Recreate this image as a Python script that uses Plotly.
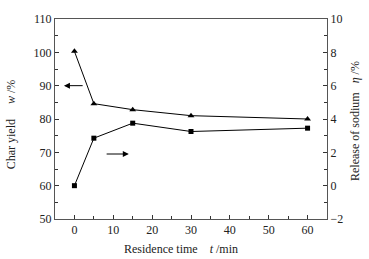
import plotly.graph_objects as go

time_min = [0, 5, 15, 30, 60]
char_yield = [100.3, 84.6, 82.8, 81.0, 80.0]
sodium_release = [0.0, 2.85, 3.75, 3.25, 3.45]

x_ticks = [0, 10, 20, 30, 40, 50, 60]
left_ticks = [50, 60, 70, 80, 90, 100, 110]
right_ticks = [-2, 0, 2, 4, 6, 8, 10]

FONT = "Liberation Serif"
TXT = "#222"
fig = go.Figure()
fig.add_trace(go.Scatter(x=time_min, y=char_yield, mode="lines+markers",
                         line=dict(color="black", width=1),
                         marker=dict(symbol="triangle-up", size=6, color="black"),
                         yaxis="y", showlegend=False))
fig.add_trace(go.Scatter(x=time_min, y=sodium_release, mode="lines+markers",
                         line=dict(color="black", width=1),
                         marker=dict(symbol="square", size=5, color="black"),
                         yaxis="y2", showlegend=False))

axis_common = dict(showline=True, linecolor="#555", linewidth=1, ticks="inside",
                   ticklen=4, tickcolor="#333", showgrid=False, zeroline=False,
                   tickfont=dict(family=FONT, size=12, color=TXT))

fig.update_layout(
    width=369, height=259,
    margin=dict(l=55, r=42, t=14, b=40),
    paper_bgcolor="white", plot_bgcolor="white",
    xaxis=dict(range=[-5, 65], tickmode="array", tickvals=x_ticks, mirror=True,
               minor=dict(dtick=5, ticks="inside", ticklen=3, tickcolor="#333"),
               **axis_common),
    yaxis=dict(range=[50, 110], tickmode="array", tickvals=left_ticks,
               minor=dict(dtick=5, ticks="inside", ticklen=3, tickcolor="#333"),
               **axis_common),
    yaxis2=dict(range=[-2, 10], tickmode="array", tickvals=right_ticks,
                overlaying="y", side="right",
                minor=dict(dtick=1, ticks="inside", ticklen=3, tickcolor="#333"),
                **axis_common),
)

fig.add_annotation(xref="paper", yref="paper", x=-0.162, y=0.473, xanchor="center", yanchor="middle",
                   text="Char yield" + "&nbsp;" * 5 + "<i>w</i> /%", textangle=-90, showarrow=False,
                   font=dict(family=FONT, size=12, color=TXT))
fig.add_annotation(xref="paper", yref="paper", x=1.103, y=0.49, xanchor="center", yanchor="middle",
                   text="Release of sodium" + "&nbsp;" * 3 + "<i>η</i> /%", textangle=-90, showarrow=False,
                   font=dict(family=FONT, size=12, color=TXT))
fig.add_annotation(xref="paper", yref="paper", x=0.463, y=-0.151, xanchor="center", yanchor="middle",
                   text="Residence time" + "&nbsp;" * 4 + "<i>t</i> /min", showarrow=False,
                   font=dict(family=FONT, size=12, color=TXT))

# arrows pointing to the relevant axes
fig.add_annotation(x=-2.7, y=90, xref="x", yref="y", ax=2.5, ay=90, axref="x", ayref="y",
                   showarrow=True, arrowhead=2, arrowsize=1.2, arrowwidth=1, arrowcolor="black", text="")
fig.add_annotation(x=14.0, y=1.9, xref="x", yref="y2", ax=7.9, ay=1.9, axref="x", ayref="y2",
                   showarrow=True, arrowhead=2, arrowsize=1.2, arrowwidth=1, arrowcolor="black", text="")

fig.write_html("out.html", config={"displayModeBar": False},
               post_script="document.body.style.margin='0';document.body.style.overflow='hidden';")
